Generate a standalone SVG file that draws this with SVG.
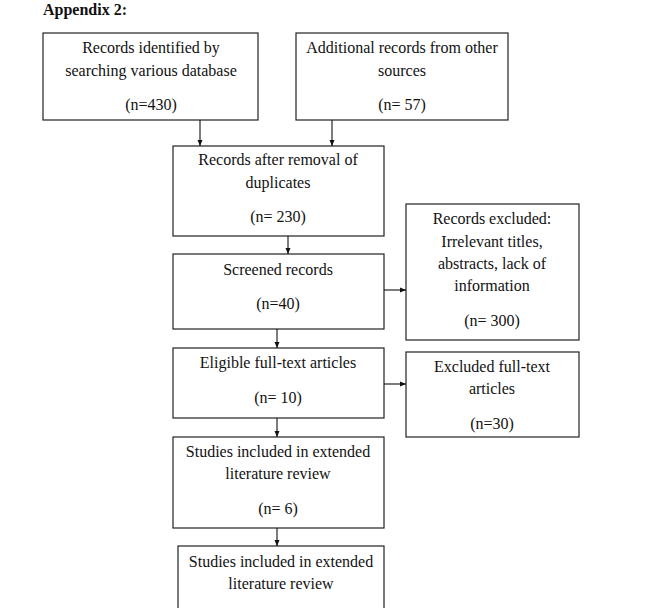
<svg xmlns="http://www.w3.org/2000/svg" width="664" height="608" viewBox="0 0 664 608">
<style>
.box{fill:#fff;stroke:#222;stroke-width:1.2}
text{font-family:"Liberation Serif","Times New Roman",serif;font-size:16px;fill:#111;text-anchor:middle}
.title{font-weight:bold;font-size:16px;text-anchor:start}
.conn line{stroke:#111;stroke-width:1.1;marker-end:url(#ah)}
</style>
<defs>
<marker id="ah" viewBox="0 0 6 6" refX="6" refY="3" markerWidth="6" markerHeight="6" markerUnits="userSpaceOnUse" orient="auto">
<path d="M0,0.5 L6,3 L0,5.5 Z" fill="#111"/>
</marker>
</defs>
<rect width="664" height="608" fill="#fff"/>
<text class="title" x="43" y="15">Appendix 2:</text>
<g id="n1"><rect class="box" x="43" y="33" width="215" height="87"/>
<text x="151" y="53">Records identified by</text><text x="151" y="76">searching various database</text><text x="151" y="110">(n=430)</text></g>
<g id="n2"><rect class="box" x="296" y="33" width="212" height="87"/>
<text x="402" y="53">Additional records from other</text><text x="402" y="76">sources</text><text x="402" y="110">(n= 57)</text></g>
<g id="n3"><rect class="box" x="173" y="146" width="211" height="90"/>
<text x="278" y="165">Records after removal of</text><text x="278" y="188">duplicates</text><text x="278" y="222">(n= 230)</text></g>
<g id="n4"><rect class="box" x="173" y="254" width="211" height="75"/>
<text x="278" y="275">Screened records</text><text x="278" y="309">(n=40)</text></g>
<g id="n5"><rect class="box" x="406" y="204" width="173" height="136"/>
<text x="492" y="224">Records excluded:</text><text x="492" y="247">Irrelevant titles,</text><text x="492" y="269">abstracts, lack of</text><text x="492" y="291">information</text><text x="492" y="326">(n= 300)</text></g>
<g id="n6"><rect class="box" x="173" y="348" width="211" height="70"/>
<text x="278" y="368">Eligible full-text articles</text><text x="278" y="403">(n= 10)</text></g>
<g id="n7"><rect class="box" x="406" y="352" width="173" height="85"/>
<text x="492" y="372">Excluded full-text</text><text x="492" y="394">articles</text><text x="492" y="429">(n=30)</text></g>
<g id="n8"><rect class="box" x="173" y="437" width="211" height="91"/>
<text x="278" y="457">Studies included in extended</text><text x="278" y="479">literature review</text><text x="278" y="514">(n= 6)</text></g>
<g id="n9"><rect class="box" x="178" y="546" width="206" height="70"/>
<text x="281" y="567">Studies included in extended</text><text x="281" y="589">literature review</text></g>
<g class="conn">
<line x1="200" y1="120" x2="200" y2="146"/>
<line x1="332" y1="120" x2="332" y2="146"/>
<line x1="288" y1="236" x2="288" y2="254"/>
<line x1="384" y1="290" x2="406" y2="290"/>
<line x1="277" y1="329" x2="277" y2="348"/>
<line x1="384" y1="384" x2="406" y2="384"/>
<line x1="277" y1="418" x2="277" y2="437"/>
<line x1="277" y1="528" x2="277" y2="546"/>
</g>
</svg>
